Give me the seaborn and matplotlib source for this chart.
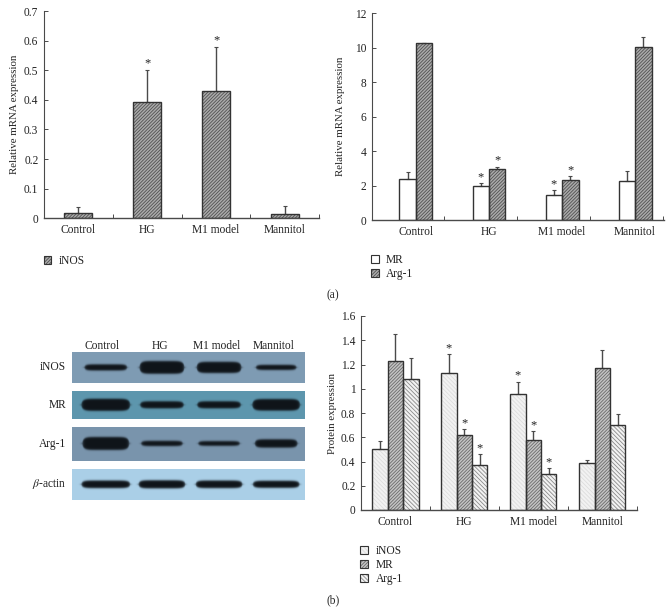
import numpy as np
import pandas as pd
import seaborn as sns
import matplotlib.pyplot as plt
from matplotlib.patches import Patch, Rectangle
from matplotlib.legend_handler import HandlerTuple

sns.set_style("ticks")
plt.rcParams['font.family'] = ['Liberation Serif', 'DejaVu Serif']
plt.rcParams['mathtext.fontset'] = 'stix'
plt.rcParams['hatch.linewidth'] = 0.6

W, H = 671, 612
TEXT = '#222222'
AXIS = '#4a4a4a'
EDGE = '#333333'
FS = 8.3

groups = ['Control', 'HG', 'M1 model', 'Mannitol']

# panel (a) left
inos_mrna = [0.017, 0.392, 0.429, 0.0135]
inos_mrna_top = [0.037, 0.50, 0.578, 0.04]
inos_mrna_star = [0, 1, 1, 0]

# panel (a) right
mr_mrna = [2.40, 1.99, 1.43, 2.26]
mr_mrna_top = [2.77, 2.13, 1.72, 2.83]
mr_mrna_star = [0, 1, 1, 0]
arg_mrna = [10.26, 2.94, 2.30, 10.06]
arg_mrna_top = [10.30, 3.08, 2.54, 10.60]
arg_mrna_star = [0, 1, 1, 0]

# panel (b) right
inos_prot = [0.50, 1.133, 0.96, 0.385]
inos_prot_top = [0.566, 1.284, 1.058, 0.41]
inos_prot_star = [0, 1, 1, 0]
mr_prot = [1.226, 0.619, 0.575, 1.168]
mr_prot_top = [1.449, 0.665, 0.649, 1.317]
mr_prot_star = [0, 1, 1, 0]
arg_prot = [1.083, 0.374, 0.297, 0.698]
arg_prot_top = [1.25, 0.459, 0.344, 0.789]
arg_prot_star = [0, 1, 1, 0]

# blot bands, px wide and px thick for each lane
blot_rows = ['iNOS', 'MR', 'Arg-1', r'$\beta$-actin']
blot_width = [[43, 45, 45, 41], [49, 44, 44, 48], [47, 42, 42, 43], [49, 47, 47, 47]]
blot_thick = [[6, 12.5, 11, 5], [12, 7, 7, 11.5], [12.5, 5, 4.5, 8], [7.5, 8, 7.5, 7]]
blot_bg = ['#7f9cb4', '#5e97ae', '#7a95ad', '#abd0e8']
blot_box = [(352.3, 382.7), (391.3, 419), (427, 461), (469.3, 500)]
lane_x = [105, 161, 218, 275]
lane_label_x = [102, 160, 217, 274]


def addAxes(left, right, top, bottom):
    return plt.gcf().add_axes([left / W, 1 - bottom / H, (right - left) / W, (bottom - top) / H])


def plotBars(ax, series, xlim, ticks, ylim, yticks, ylabels, ylabel, labelX, width, legendPos):
    rows = []
    for name, values, tops, stars, style in series:
        for g, v in zip(groups, values):
            rows.append({'group': g, 'value': v, 'marker': name})
    df = pd.DataFrame(rows)
    palette = {s[0]: s[4][0] for s in series}
    sns.barplot(data=df, x='group', y='value', hue='marker', palette=palette, order=groups,
                width=width, gap=0, errorbar=None, saturation=1, legend=False, ax=ax)
    yspan = ylim[1] - ylim[0]
    handles = []
    for container, s in zip(ax.containers, series):
        name, values, tops, stars, style = s
        xs = []
        for bar in container:
            bar.set_facecolor(style[0])
            bar.set_edgecolor(style[1])
            bar.set_hatch(style[2])
            bar.set_linewidth(0)
            # outline on top, so the hatch can keep its own colour
            ax.add_patch(Rectangle(bar.get_xy(), bar.get_width(), bar.get_height(), fill=False,
                                   edgecolor=EDGE, linewidth=1.0, zorder=3))
            xs.append(bar.get_x() + bar.get_width() / 2)
        err = np.array(tops) - np.array(values)
        ax.errorbar(xs, values, yerr=[np.zeros(len(err)), err], fmt='none', ecolor=AXIS,
                    elinewidth=1.0, capsize=1.5, capthick=0.8, zorder=1)
        for x, t, st in zip(xs, tops, stars):
            if st:
                ax.text(x, t + yspan * 0.002, '*', ha='center', va='bottom', fontsize=9, color=TEXT)
        handles.append((Patch(facecolor=style[0], edgecolor=style[1], hatch=style[2], linewidth=0),
                        Patch(fill=False, edgecolor=EDGE, linewidth=0.8)))
    ax.set_xlim(*xlim)
    ax.set_ylim(*ylim)
    ax.set_xticks(ticks, [''] * len(ticks))
    ax.set_xticks(range(4), groups, minor=True)
    ax.set_yticks(yticks, ylabels)
    ax.tick_params(axis='x', which='major', direction='in', length=3.2, width=0.7, color=AXIS)
    ax.tick_params(axis='x', which='minor', length=0, pad=4, labelsize=FS, labelcolor=TEXT)
    ax.tick_params(axis='y', direction='in', length=3.2, width=0.7, color=AXIS, pad=4,
                   labelsize=FS, labelcolor=TEXT)
    ax.set_xlabel('')
    ax.set_ylabel(ylabel, fontsize=7.8, color=TEXT)
    box = ax.get_position()
    ax.yaxis.set_label_coords((labelX / W - box.x0) / box.width, 0.5)
    sns.despine(ax=ax)
    ax.spines['left'].set_color(AXIS)
    ax.spines['bottom'].set_color(AXIS)
    ax.spines['bottom'].set_linewidth(1.0)
    ax.spines['left'].set_linewidth(0.8)
    ax.legend(handles, [s[0] for s in series], loc='upper left',
              bbox_to_anchor=(legendPos[0] / W, 1 - legendPos[1] / H),
              bbox_transform=plt.gcf().transFigure, frameon=False, fontsize=FS,
              handler_map={tuple: HandlerTuple(ndivide=1, pad=0)},
              handlelength=0.68, handleheight=0.68, handletextpad=0.62, labelspacing=0.14,
              borderpad=0, borderaxespad=0, labelcolor=TEXT)


def plotBlot():
    fig = plt.gcf()
    for r, name in enumerate(blot_rows):
        top, bottom = blot_box[r]
        left, right = 71.5, 304
        ax = addAxes(left, right, top, bottom)
        xx = np.arange(left, right, 0.5)
        yy = np.arange(top, bottom, 0.5)
        X, Y = np.meshgrid(xx, yy)
        cy = (top + bottom) / 2 - 0.3
        band = np.zeros_like(X)
        for cx, w, t in zip(lane_x, blot_width[r], blot_thick[r]):
            # rounded band: thick in the middle, tapering at the ends
            u = np.clip(np.abs(X - cx) / (w / 2), 0, 1.6)
            half = t / 2 * np.sqrt(np.clip(1 - u ** 8, 0.02, 1))
            prof = 1 / (1 + np.exp((np.abs(Y - cy) - half) / 0.55))
            edge = 1 / (1 + np.exp((np.abs(X - cx) - w / 2) / 0.8))
            band = np.maximum(band, prof * edge)
        bg = np.array(plt.matplotlib.colors.to_rgb(blot_bg[r]))
        dark = np.array([0.06, 0.08, 0.10])
        img = bg[None, None, :] * (1 - band[..., None]) + dark[None, None, :] * band[..., None]
        ax.imshow(img, aspect='auto', interpolation='bilinear')
        ax.axis('off')
        fig.text(66 / W, 1 - ((top + bottom) / 2 - 0.5) / H, name, ha='right', va='center',
                 fontsize=FS, color=TEXT)
    for x, g in zip(lane_label_x, groups):
        fig.text(x / W, 1 - 345.7 / H, g, ha='center', va='center', fontsize=FS, color=TEXT)


# facecolour, hatch colour, hatch
DARK = ('#ababab', '#505050', '//////////')
WHITE = ('#ffffff', '#ffffff', '')
LIGHT = ('#f2f2f2', '#dddddd', '\\\\\\\\\\\\\\\\')
MID = ('#c4c4c4', '#6a6a6a', '//////////')
SPARSE = ('#f2f2f2', '#8a8a8a', '\\\\\\\\\\\\\\\\')

fig = plt.figure(figsize=(W / 100, H / 100), dpi=100)

ax = addAxes(44, 319.3, 11, 218.3)
plotBars(ax, [('iNOS', inos_mrna, inos_mrna_top, inos_mrna_star, DARK)],
         (-0.5, 3.5), [0.5, 1.5, 2.5, 3.5], (0, 0.7),
         [0, 0.1, 0.2, 0.3, 0.4, 0.5, 0.6, 0.7], ['0', '0.1', '0.2', '0.3', '0.4', '0.5', '0.6', '0.7'],
         'Relative mRNA expression', 19, 0.405, (43.5, 255))

ax = addAxes(371.7, 664, 13.3, 220)
plotBars(ax, [('MR', mr_mrna, mr_mrna_top, mr_mrna_star, WHITE),
              ('Arg-1', arg_mrna, arg_mrna_top, arg_mrna_star, DARK)],
         (-0.605, 3.395), [0.385, 1.385, 2.385, 3.385], (0, 12),
         [0, 2, 4, 6, 8, 10, 12], ['0', '2', '4', '6', '8', '10', '12'],
         'Relative mRNA expression', 345, 0.45, (371, 254))

ax = addAxes(361, 636.7, 316, 510)
plotBars(ax, [('iNOS', inos_prot, inos_prot_top, inos_prot_star, LIGHT),
              ('MR', mr_prot, mr_prot_top, mr_prot_star, MID),
              ('Arg-1', arg_prot, arg_prot_top, arg_prot_star, SPARSE)],
         (-0.5, 3.5), [0.5, 1.5, 2.5, 3.5], (0, 1.6),
         [0, 0.2, 0.4, 0.6, 0.8, 1.0, 1.2, 1.4, 1.6],
         ['0', '0.2', '0.4', '0.6', '0.8', '1', '1.2', '1.4', '1.6'],
         'Protein expression', 337, 0.67, (360.5, 545.5))

plotBlot()

fig.text(333 / W, 1 - 295 / H, '(a)', ha='center', va='center', fontsize=FS, color=TEXT)
fig.text(333 / W, 1 - 600.5 / H, '(b)', ha='center', va='center', fontsize=FS, color=TEXT)

fig.savefig('out.png', dpi=100)
